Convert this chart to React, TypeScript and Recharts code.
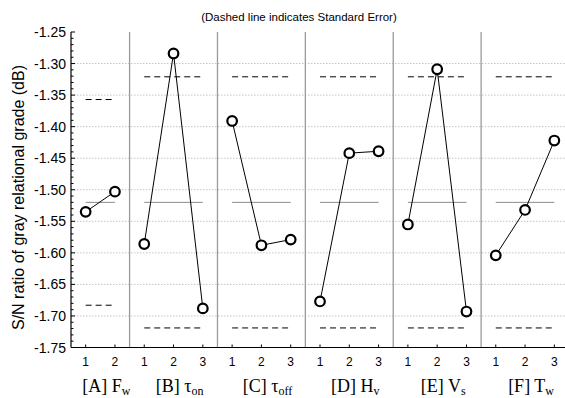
import { LineChart, Line, XAxis, YAxis, ReferenceLine } from "recharts";

// ─── Data ────────────────────────────────────────────────

const factorCodes = ["A", "B", "C", "D", "E", "F"];
const factorSymbols = ["F", "τ", "τ", "H", "V", "T"];
const factorSubscripts = ["w", "on", "off", "v", "s", "w"];
const factorLevels = [
  ["1", "2"],
  ["1", "2", "3"],
  ["1", "2", "3"],
  ["1", "2", "3"],
  ["1", "2", "3"],
  ["1", "2", "3"],
];

// S/N ratio of gray relational grade (dB), one list per factor
const snA = [-1.535, -1.503];
const snB = [-1.586, -1.284, -1.688];
const snC = [-1.391, -1.588, -1.579];
const snD = [-1.677, -1.442, -1.439];
const snE = [-1.555, -1.309, -1.693];
const snF = [-1.604, -1.532, -1.422];
const snValues = [snA, snB, snC, snD, snE, snF];

// standard error band (dashed) and grand mean (solid)
const seUpper = [-1.357, -1.321, -1.321, -1.321, -1.321, -1.321];
const seLower = [-1.683, -1.719, -1.719, -1.719, -1.719, -1.719];
const grandMean = -1.52;

const yMajorTicks = [-1.75, -1.7, -1.65, -1.6, -1.55, -1.5, -1.45, -1.4, -1.35, -1.3, -1.25];

const titleText = "(Dashed line indicates Standard Error)";
const yAxisTitle = "S/N ratio of gray relational grade (dB)";

// ─── Layout helpers ──────────────────────────────────────

const SANS = "'Liberation Sans', Arial, sans-serif";
const SERIF = "'Liberation Serif', 'Times New Roman', serif";

// each level gets one slot on a shared numeric x axis
let slot = 0;
const panels = factorCodes.map((code, i) => {
  const start = slot;
  const n = factorLevels[i].length;
  slot += n;
  const seg = (v: number) => [
    { x: start + 0.5, y: v },
    { x: start + n - 0.5, y: v },
  ];
  return {
    code,
    start,
    n,
    center: start + n / 2,
    points: snValues[i].map((v, j) => ({ x: start + j + 0.5, y: v })),
    upper: seg(seUpper[i]),
    lower: seg(seLower[i]),
    mean: seg(grandMean),
  };
});
const totalSlots = slot;

const levelTicks: number[] = [];
const levelLabelAt: Record<string, string> = {};
panels.forEach((p, i) => {
  factorLevels[i].forEach((lab, j) => {
    const pos = p.start + j + 0.5;
    levelTicks.push(pos);
    levelLabelAt[String(pos)] = lab;
  });
});
const panelTicks = panels.map((p) => p.center);
const panelIndexAt: Record<string, number> = {};
panelTicks.forEach((c, i) => (panelIndexAt[String(c)] = i));
const separators = panels.slice(1).map((p) => p.start);

// minor y ticks every 0.01 between the majors
const yAllTicks: number[] = [];
yMajorTicks.forEach((t, i) => {
  yAllTicks.push(t);
  if (i < yMajorTicks.length - 1) {
    for (let k = 1; k < 5; k++) yAllTicks.push(Math.round((t + k * 0.01) * 1000) / 1000);
  }
});

// ─── Custom ticks ────────────────────────────────────────

function YTick({ x, y, payload }: any) {
  const v: number = payload.value;
  const major = yMajorTicks.some((t) => Math.abs(t - v) < 1e-6);
  return (
    <g>
      <line x1={x} x2={x + (major ? 4 : 2.5)} y1={y} y2={y} stroke="#000" strokeWidth={1} />
      {major && (
        <text x={x - 5} y={y + 5} textAnchor="end" fontSize={14} fontFamily={SANS} fill="#000">
          {v.toFixed(2)}
        </text>
      )}
    </g>
  );
}

function LevelTick({ x, y, payload }: any) {
  return (
    <g>
      <line x1={x} x2={x} y1={y} y2={y - 3} stroke="#000" />
      <text x={x} y={y + 18.5} textAnchor="middle" fontSize={12} fontFamily={SANS} fill="#000">
        {levelLabelAt[String(payload.value)]}
      </text>
    </g>
  );
}

function TopTick({ x, y }: any) {
  return <line x1={x} x2={x} y1={y} y2={y + 3} stroke="#000" />;
}

function PanelTick({ x, y, payload }: any) {
  const i = panelIndexAt[String(payload.value)];
  return (
    <text x={x + 6} y={y + 22.5} textAnchor="middle" fontSize={18} fontFamily={SERIF} fill="#000">
      {`[${factorCodes[i]}] ${factorSymbols[i]}`}
      <tspan fontSize={12} dy={3}>
        {factorSubscripts[i]}
      </tspan>
    </text>
  );
}

// ─── Chart ───────────────────────────────────────────────

export default function App() {
  return (
    <div
      style={{
        position: "absolute",
        left: 0,
        top: 0,
        width: 565,
        height: 398,
        overflow: "hidden",
        background: "#fff",
      }}
    >
      <LineChart width={580} height={398} margin={{ top: 32, right: 11, bottom: 0, left: 0 }}>
        <XAxis
          dataKey="x"
          type="number"
          domain={[0, totalSlots]}
          allowDataOverflow
          ticks={levelTicks}
          interval={0}
          tickSize={0}
          tickMargin={0}
          height={22}
          axisLine={{ stroke: "#000", strokeWidth: 1.2 }}
          tickLine={false}
          tick={<LevelTick />}
        />
        <XAxis
          xAxisId="panel"
          dataKey="x"
          type="number"
          domain={[0, totalSlots]}
          allowDataOverflow
          ticks={panelTicks}
          interval={0}
          tickSize={0}
          tickMargin={0}
          height={28.5}
          axisLine={false}
          tickLine={false}
          tick={<PanelTick />}
        />
        <XAxis
          xAxisId="top"
          orientation="top"
          dataKey="x"
          type="number"
          domain={[0, totalSlots]}
          allowDataOverflow
          ticks={levelTicks}
          interval={0}
          tickSize={0}
          tickMargin={0}
          height={0}
          axisLine={{ stroke: "#000", strokeWidth: 1.2 }}
          tickLine={false}
          tick={<TopTick />}
        />
        <YAxis
          type="number"
          domain={[-1.75, -1.25]}
          allowDataOverflow
          ticks={yAllTicks}
          interval={0}
          width={71}
          tickSize={0}
          tickMargin={0}
          axisLine={{ stroke: "#000", strokeWidth: 1.2 }}
          tickLine={false}
          tick={<YTick />}
        />

        {yMajorTicks.slice(1, -1).map((t) => (
          <ReferenceLine key={`g${t}`} y={t} stroke="#c4c4c4" strokeDasharray="1.5 1.5" />
        ))}
        {separators.map((s) => (
          <ReferenceLine key={`s${s}`} x={s} stroke="#9a9a9a" strokeWidth={1.3} />
        ))}

        {panels.map((p) => (
          <Line
            key={`m${p.code}`}
            data={p.mean}
            dataKey="y"
            type="linear"
            stroke="#8c8c8c"
            strokeWidth={1}
            dot={false}
            isAnimationActive={false}
          />
        ))}
        {panels.map((p) => (
          <Line
            key={`u${p.code}`}
            xAxisId="top"
            data={p.upper}
            dataKey="y"
            type="linear"
            stroke="#000"
            strokeWidth={1}
            strokeDasharray="6 4"
            dot={false}
            isAnimationActive={false}
          />
        ))}
        {panels.map((p) => (
          <Line
            key={`l${p.code}`}
            xAxisId="panel"
            data={p.lower}
            dataKey="y"
            type="linear"
            stroke="#000"
            strokeWidth={1}
            strokeDasharray="6 4"
            dot={false}
            isAnimationActive={false}
          />
        ))}
        {panels.map((p) => (
          <Line
            key={`d${p.code}`}
            data={p.points}
            dataKey="y"
            type="linear"
            stroke="#000"
            strokeWidth={1}
            dot={{ r: 4.8, stroke: "#000", strokeWidth: 2.2, fill: "#fff" }}
            isAnimationActive={false}
          />
        ))}
      </LineChart>

      <svg
        width={565}
        height={398}
        style={{ position: "absolute", left: 0, top: 0, pointerEvents: "none" }}
      >
        <text x={299} y={20.5} textAnchor="middle" fontSize={11.5} fontFamily={SANS} fill="#000">
          {titleText}
        </text>
        <text
          x={24}
          y={197.5}
          transform="rotate(-90 24 197.5)"
          textAnchor="middle"
          fontSize={16}
          fontFamily={SANS}
          fill="#000"
        >
          {yAxisTitle}
        </text>
      </svg>
    </div>
  );
}
